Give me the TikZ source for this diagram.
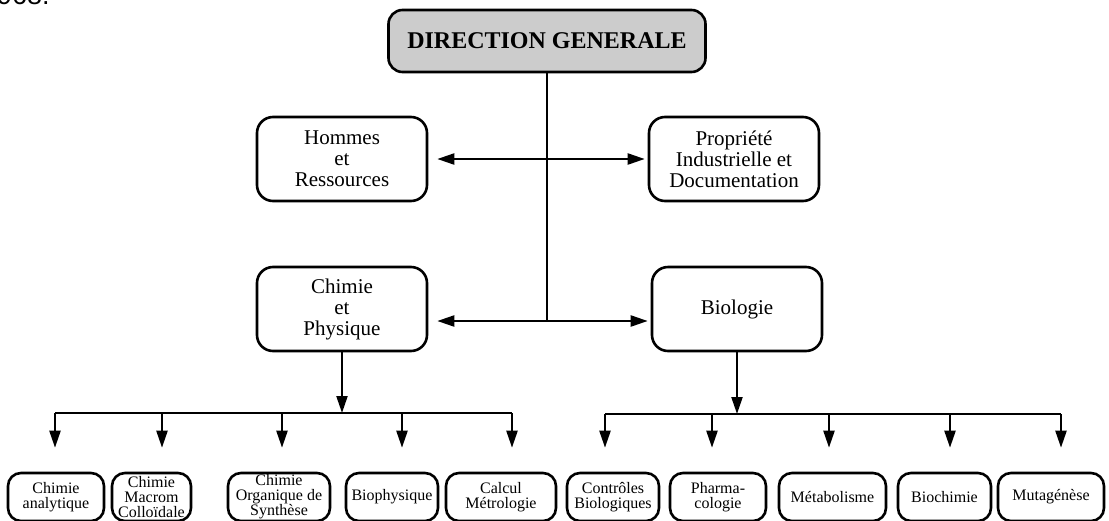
\documentclass[tikz,border=0pt]{standalone}
\usepackage{fontspec}
\setmainfont{Liberation Serif}
\newfontfamily\pagefont{Liberation Sans}
\usetikzlibrary{positioning}
\usetikzlibrary{arrows.meta}

\begin{document}
\begin{tikzpicture}[
    x=1pt, y=-1pt,
    tete/.style={rectangle, rounded corners=14pt, draw, line width=2.6pt, fill=black!20, minimum width=317pt, minimum height=62pt, inner sep=0pt, font=\fontsize{24}{24}\selectfont\bfseries},
    dept/.style={rectangle, rounded corners=16pt, draw, line width=2.6pt, minimum width=170pt, minimum height=84pt, inner sep=0pt, align=center, font=\fontsize{21}{21}\selectfont},
    labo/.style={rectangle, rounded corners=13pt, draw, line width=2.6pt, minimum height=48pt, inner sep=0pt, align=center, font=\fontsize{16}{15}\selectfont},
    liaison/.style={line width=2.2pt},
    fleche/.style={-{Triangle[length=17pt,width=11pt]}, line width=2.2pt},
    doublefleche/.style={{Triangle[length=17pt,width=11pt]}-{Triangle[length=17pt,width=11pt]}, line width=2.2pt}
]
\useasboundingbox (0,0) rectangle (1109,520);

% Page text cut at the top
\node[anchor=base west, inner sep=0pt, font=\pagefont\fontsize{27}{27}\selectfont] (page) at (-3,4) {968.};

% Direction and departments
\node[tete] (dg) at (547,41) {DIRECTION GENERALE};
\node[dept] (hommes) at (342,159) {Hommes\\et\\Ressources};
\node[dept] (propriete) at (734,159) {Propriété\\Industrielle et\\Documentation};
\node[dept] (chimie) at (342,309) {Chimie\\et\\Physique};
\node[dept] (biologie) at (737,309) {Biologie};

% Laboratories
\node[labo, minimum width=96pt] (analytique) at (56,497) {Chimie\\analytique};
\node[labo, minimum width=79pt] (macrom) at (151.5,497) {Chimie\\Macrom\\Colloïdale};
\node[labo, minimum width=102pt] (organique) at (279,497) {Chimie\\Organique de\\Synthèse};
\node[labo, minimum width=92pt] (biophysique) at (392,497) {Biophysique};
\node[labo, minimum width=110pt] (calcul) at (501,497) {Calcul\\Métrologie};
\node[labo, minimum width=92pt] (controles) at (613,497) {Contrôles\\Biologiques};
\node[labo, minimum width=96pt] (pharma) at (718,497) {Pharma-\\cologie};
\node[labo, minimum width=107pt] (metabolisme) at (832.5,497) {Métabolisme};
\node[labo, minimum width=93pt] (biochimie) at (944.5,497) {Biochimie};
\node[labo, minimum width=106pt] (mutagenese) at (1051,497) {Mutagénèse};

% Junctions
\coordinate (j2) at (547,321);
\coordinate (bus1) at (342,413);
\coordinate (bus2) at (737,414);
\coordinate (b1) at (55,413);
\coordinate (b2) at (162,413);
\coordinate (b3) at (282,413);
\coordinate (b4) at (402,413);
\coordinate (b5) at (512,413);
\coordinate (b6) at (605,414);
\coordinate (b7) at (712,414);
\coordinate (b8) at (829,414);
\coordinate (b9) at (950,414);
\coordinate (b10) at (1061,414);

% Main links
\draw[liaison] (dg.south) -- (j2);
\draw[doublefleche, shorten <=9pt, shorten >=3pt] (hommes.east) -- (propriete.west);
\draw[doublefleche, shorten <=9pt, shorten >=3pt] (chimie.east |- j2) -- (biologie.west |- j2);
\draw[fleche] (chimie.south) -- (bus1);
\draw[fleche] (biologie.south) -- (bus2);

% Buses
\draw[liaison] (b1) -- (b5);
\draw[liaison] (b6) -- (b10);

% Arrows to laboratories
\draw[fleche, shorten >=24pt] (b1) -- (b1 |- analytique.north);
\draw[fleche, shorten >=24pt] (b2) -- (b2 |- analytique.north);
\draw[fleche, shorten >=24pt] (b3) -- (b3 |- analytique.north);
\draw[fleche, shorten >=24pt] (b4) -- (b4 |- analytique.north);
\draw[fleche, shorten >=24pt] (b5) -- (b5 |- analytique.north);
\draw[fleche, shorten >=24pt] (b6) -- (b6 |- controles.north);
\draw[fleche, shorten >=24pt] (b7) -- (b7 |- controles.north);
\draw[fleche, shorten >=24pt] (b8) -- (b8 |- controles.north);
\draw[fleche, shorten >=24pt] (b9) -- (b9 |- controles.north);
\draw[fleche, shorten >=24pt] (b10) -- (b10 |- controles.north);

\end{tikzpicture}
\end{document}
